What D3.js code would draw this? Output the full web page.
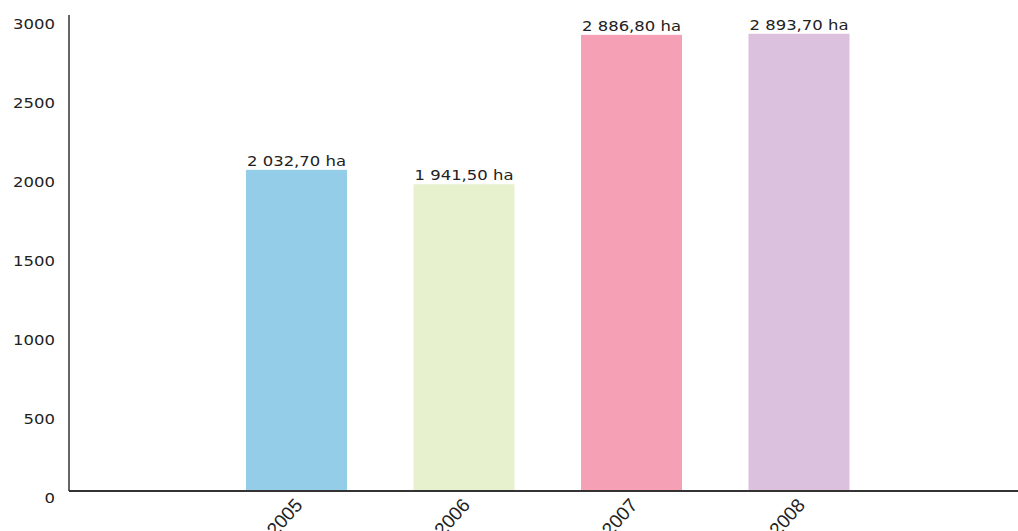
<!DOCTYPE html>
<html>
<head>
<meta charset="utf-8">
<script src="https://cdn.jsdelivr.net/npm/d3@7"></script>
<style>
  body { margin: 0; background: #fff; }
  svg { display: block; }
</style>
</head>
<body>
<div id="chart"></div>
<script>
const years = ['2005', '2006', '2007', '2008'];
const values = [2032.7, 1941.5, 2886.8, 2893.7];
const valueLabels = ['2 032,70 ha', '1 941,50 ha', '2 886,80 ha', '2 893,70 ha'];
const colors = ['#94cde7', '#e8f1cd', '#f5a0b5', '#dbc1de'];
const yTicks = [0, 500, 1000, 1500, 2000, 2500, 3000];

const width = 1018, height = 531;
const axisX = 69, axisY = 491;
const labelFont = 'DejaVu Sans, Verdana, sans-serif';
const stretch = 1.22; // the original labels use a wide face

const svg = d3.select('#chart')
  .append('svg')
  .attr('width', width)
  .attr('height', height);

const x = d3.scaleBand()
  .domain(years)
  .range([212.5, 883])
  .paddingInner(0.397)
  .paddingOuter(0.2);

const y = d3.scaleLinear()
  .domain([0, 3000])
  .range([axisY, 17]);

// y tick labels (no tick marks)
svg.append('g')
  .selectAll('text')
  .data(yTicks)
  .enter()
  .append('text')
  .attr('transform', d => `translate(55,${y(d) + 12}) scale(${stretch},1)`)
  .attr('text-anchor', 'end')
  .attr('font-family', labelFont)
  .attr('font-size', 13.5)
  .attr('fill', '#222')
  .text(d => d);

// bars
svg.append('g')
  .selectAll('rect')
  .data(years)
  .enter()
  .append('rect')
  .attr('x', d => x(d))
  .attr('width', x.bandwidth())
  .attr('y', (d, i) => y(values[i]))
  .attr('height', (d, i) => axisY - y(values[i]))
  .attr('fill', (d, i) => colors[i]);

// value labels
svg.append('g')
  .selectAll('text')
  .data(years)
  .enter()
  .append('text')
  .attr('transform', (d, i) => `translate(${x(d) + x.bandwidth() / 2},${y(values[i]) - 4}) scale(${stretch},1)`)
  .attr('text-anchor', 'middle')
  .attr('font-family', labelFont)
  .attr('font-size', 13.5)
  .attr('fill', '#222')
  .text((d, i) => valueLabels[i]);

// axes lines
svg.append('line')
  .attr('x1', axisX).attr('x2', axisX)
  .attr('y1', 15).attr('y2', axisY)
  .attr('stroke', '#333').attr('stroke-width', 1.5);

svg.append('line')
  .attr('x1', axisX).attr('x2', width)
  .attr('y1', axisY).attr('y2', axisY)
  .attr('stroke', '#333').attr('stroke-width', 2);

// x category labels, rotated
svg.append('g')
  .selectAll('text')
  .data(years)
  .enter()
  .append('text')
  .attr('transform', d => `translate(${x(d) + x.bandwidth() / 2 + 7},${axisY + 15}) rotate(-48)`)
  .attr('text-anchor', 'end')
  .attr('font-family', 'Liberation Sans Narrow, Arial Narrow, sans-serif')
  .attr('font-size', 19)
  .attr('fill', '#222')
  .text(d => d);
</script>
</body>
</html>
